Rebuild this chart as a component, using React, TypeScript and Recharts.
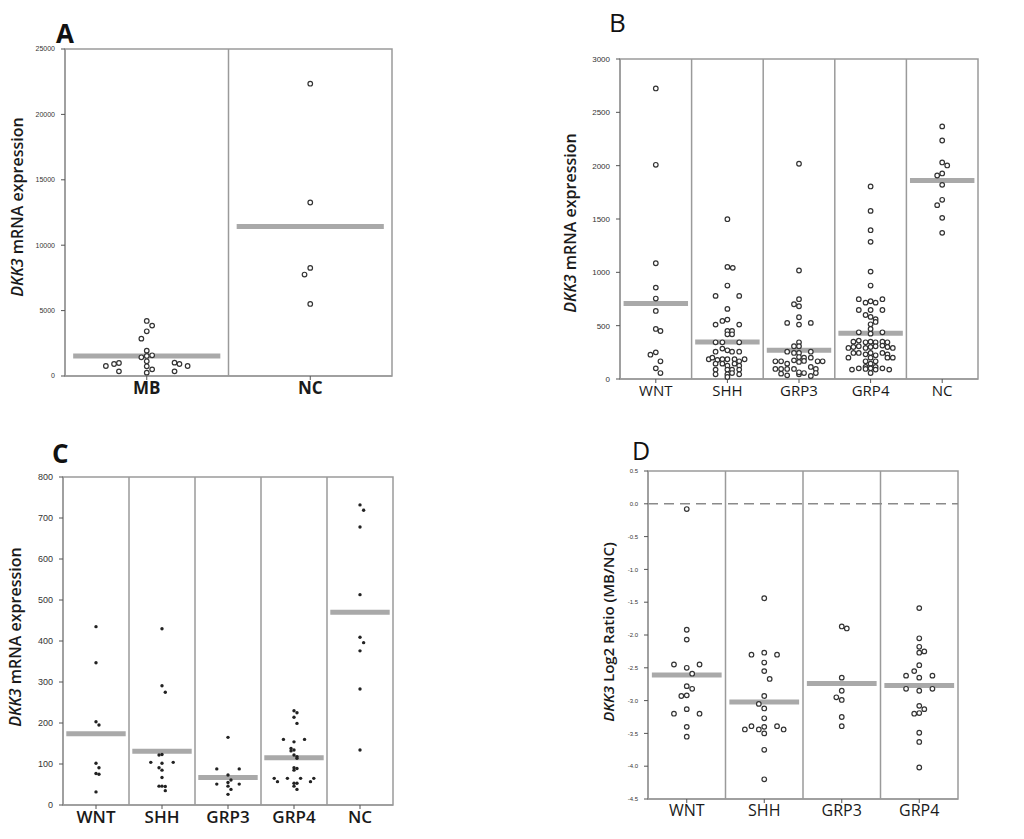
import React from 'react';
import { ReferenceArea, ReferenceLine, Scatter, ScatterChart, XAxis, YAxis } from 'recharts';

// each point: [offset from group centre (in category widths), value]
type Pt = [number, number];

const catsA = ['MB', 'NC'];
const mbA: Pt[] = [
    [-0.25, 765], [-0.2, 918], [-0.17, 995], [-0.17, 357], [0, 4209], [0.033, 3852], [0, 3418],
    [-0.033, 2857], [0, 1939], [-0.033, 1429], [0, 1531], [0.033, 1582], [0, 1122], [0, 740],
    [0, 255], [0.033, 510], [0.17, 1020], [0.2, 918], [0.17, 357], [0.25, 765]
];
const ncA: Pt[] = [[0, 22347], [0, 13265], [0, 8265], [-0.035, 7755], [0, 5510]];
const meansA = [1530, 11430];
const ticksA = [0, 5000, 10000, 15000, 20000, 25000];

const catsB = ['WNT', 'SHH', 'GRP3', 'GRP4', 'NC'];
const wntB: Pt[] = [
    [0, 2724], [0, 2008], [0, 1085], [0, 857], [0, 754], [0, 638], [0, 469], [0.065, 450],
    [0, 250], [-0.075, 228], [0.065, 166], [0, 100], [0.065, 56]
];
const shhB: Pt[] = [
    [0, 1498], [0, 1051], [0.075, 1042], [0, 876], [-0.165, 779], [0.165, 779], [0, 657],
    [-0.165, 510], [-0.07, 544], [0, 557], [0.165, 510], [0, 450], [0.065, 450], [0, 419],
    [0.065, 419], [-0.165, 344], [-0.07, 344], [0.165, 344], [-0.165, 256], [-0.07, 285],
    [0, 269], [0.065, 256], [0.165, 256], [-0.26, 185], [-0.21, 200], [-0.14, 178], [-0.07, 185],
    [0, 185], [0.1, 185], [0.165, 166], [0.24, 185], [-0.165, 144], [-0.07, 144], [0, 125],
    [0.1, 144], [0.165, 125], [-0.165, 88], [0, 88], [0.065, 88], [0.165, 88], [-0.165, 44],
    [0, 44], [0.065, 56], [0.165, 44], [0, 19]
];
const grp3B: Pt[] = [
    [0, 2018], [0, 1017], [0, 748], [-0.07, 701], [0, 682], [0, 579], [-0.165, 526], [0, 510],
    [0.165, 526], [0, 344], [-0.07, 307], [0, 307], [-0.165, 256], [-0.07, 244], [0, 244],
    [0.165, 256], [0, 206], [0.07, 200], [-0.07, 175], [0, 160], [0.07, 169], [0.165, 200],
    [-0.33, 166], [-0.25, 166], [-0.165, 144], [0.26, 166], [0.33, 166], [-0.33, 94], [-0.25, 94],
    [-0.165, 94], [-0.07, 94], [0.165, 113], [0.235, 94], [-0.25, 50], [-0.165, 34], [0, 44],
    [0.07, 56], [0.165, 28], [0.235, 56], [0, 63]
];
const grp4B: Pt[] = [
    [0, 1805], [0, 1576], [0, 1395], [0, 1286], [0, 1007], [0, 876], [-0.165, 748], [-0.07, 716],
    [0, 729], [0.07, 716], [0.165, 748], [-0.165, 647], [0, 647], [0.165, 647], [-0.07, 600],
    [0, 582], [0.07, 560], [0, 513], [0.07, 535], [0, 469], [0.165, 438], [-0.165, 438], [0, 425],
    [-0.24, 350], [-0.165, 360], [-0.07, 344], [0, 350], [0.07, 344], [0.165, 350], [0.235, 344],
    [-0.31, 291], [-0.24, 300], [-0.165, 307], [-0.07, 291], [0, 300], [0.07, 307], [0.165, 313],
    [0.235, 300], [0.31, 291], [-0.31, 200], [-0.24, 244], [-0.165, 244], [-0.07, 231], [0, 244],
    [0.07, 222], [0.165, 244], [0.235, 231], [0.31, 200], [-0.07, 166], [0, 200], [0.07, 166],
    [0.235, 200], [0, 144], [-0.07, 113], [0.07, 113], [-0.26, 88], [-0.165, 100], [-0.07, 94],
    [0, 100], [0.07, 88], [0.165, 100], [0.26, 88], [0, 56]
];
const ncB: Pt[] = [
    [0, 2368], [0, 2236], [0, 2030], [0.07, 2002], [-0.07, 1908], [0, 1927], [0, 1820],
    [0, 1680], [-0.07, 1630], [0, 1511], [0, 1370]
];
const meansB = [707, 347, 269, 428, 1861];
const ticksB = [0, 500, 1000, 1500, 2000, 2500, 3000];

const catsC = ['WNT', 'SHH', 'GRP3', 'GRP4', 'NC'];
const wntC: Pt[] = [[0, 435], [0, 347], [0, 203], [0.045, 195], [0, 102], [0.045, 91], [0, 77], [0.045, 75], [0, 32]];
const shhC: Pt[] = [
    [0, 430], [0, 291], [0.05, 275], [0, 123], [-0.045, 122], [-0.17, 104], [0, 102], [0.17, 104],
    [-0.045, 91], [0, 85], [0, 67], [0, 46], [0.05, 45], [-0.045, 46], [0.05, 35]
];
const grp3C: Pt[] = [
    [0, 165], [-0.17, 88], [0.17, 88], [0, 73], [0.045, 61], [-0.17, 51], [0, 55], [0.17, 51],
    [0, 46], [0.045, 38], [0, 26]
];
const grp4C: Pt[] = [
    [0, 230], [0.045, 225], [0, 214], [0.045, 199], [-0.16, 160], [0, 154], [0.16, 160],
    [-0.045, 138], [0, 134], [-0.045, 132], [0, 122], [0.045, 118], [0.045, 114], [0, 91],
    [0.045, 89], [0, 85], [-0.3, 65], [-0.25, 57], [-0.1, 65], [0.1, 65], [0.3, 65], [0.25, 57],
    [0, 53], [0.045, 53], [0, 46], [0.045, 38]
];
const ncC: Pt[] = [[0, 732], [0.055, 719], [0, 678], [0, 513], [0, 409], [0.055, 396], [0, 376], [0, 283], [0, 134]];
const meansC = [174, 131, 67, 115, 470];
const ticksC = [0, 100, 200, 300, 400, 500, 600, 700, 800];

const catsD = ['WNT', 'SHH', 'GRP3', 'GRP4'];
const wntD: Pt[] = [
    [0, -0.08], [0, -1.92], [0, -2.07], [-0.165, -2.45], [0.165, -2.45], [0, -2.5], [0.07, -2.59],
    [0, -2.78], [0.07, -2.82], [-0.07, -2.93], [0, -2.92], [0, -3.13], [-0.165, -3.2],
    [0.165, -3.2], [0, -3.4], [0, -3.55]
];
const shhD: Pt[] = [
    [0, -1.44], [-0.165, -2.3], [0, -2.27], [0.165, -2.3], [0, -2.42], [0, -2.55], [0.07, -2.67],
    [0, -2.93], [-0.07, -3.05], [0, -3.12], [0, -3.27], [-0.165, -3.39], [0.165, -3.39],
    [-0.25, -3.44], [-0.07, -3.44], [0, -3.4], [0.25, -3.44], [0, -3.5], [0, -3.75], [0, -4.2]
];
const grp3D: Pt[] = [[0, -1.87], [0.065, -1.9], [0, -2.65], [0, -2.85], [-0.07, -2.95], [0, -2.99], [0, -3.25], [0, -3.39]];
const grp4D: Pt[] = [
    [0, -1.59], [0, -2.05], [0, -2.18], [0.065, -2.25], [0, -2.27], [0, -2.46], [-0.065, -2.55],
    [-0.17, -2.62], [0, -2.65], [0.17, -2.62], [-0.17, -2.82], [0.17, -2.82], [0, -2.85],
    [0, -3.08], [0.065, -3.13], [-0.065, -3.2], [0, -3.19], [0, -3.49], [0, -3.63], [0, -4.02]
];
const meansD = [-2.61, -3.02, -2.74, -2.77];
const ticksD = [-4.5, -4, -3.5, -3, -2.5, -2, -1.5, -1, -0.5, 0, 0.5];

const FRAME = '#9a9a9a';
const MEAN = '#a9a9a9';
const LABEL_FONT = '"Open Sans", "DejaVu Sans", sans-serif';
const TICK_FONT = '"Liberation Sans", Arial, sans-serif';

const Ring = (props: any) =>
    <circle cx={props.cx} cy={props.cy} r={2.3} fill="#fff" stroke="#333" strokeWidth={1.2}/>;

const Dot = (props: any) =>
    <circle cx={props.cx} cy={props.cy} r={1.7} fill="#222"/>;

type PanelProps = {
    left: number
    top: number
    width: number
    height: number
    margin: { top: number, right: number, bottom: number, left: number }
    yWidth: number
    cats: string[]
    groups: Pt[][]
    means: number[]
    ticks: number[]
    tickSize: number
    tickFmt?: (v: number) => string
    xFont: number
    xWeight: number
    filled?: boolean
    zeroLine?: boolean
};

function Panel(p: PanelProps): JSX.Element {
    const n = p.cats.length;
    const yMin = p.ticks[0];
    const yMax = p.ticks[p.ticks.length - 1];
    const points = p.groups.flatMap((g, i) => g.map(([dx, v]) => ({ x: i + dx, y: v })));

    return (
        <div style={{ position: 'absolute', left: p.left, top: p.top }}>
            <ScatterChart width={p.width} height={p.height} margin={p.margin}>
                <XAxis
                    type="number"
                    dataKey="x"
                    domain={[-0.5, n - 0.5]}
                    ticks={p.cats.map((_c, i) => i)}
                    interval={0}
                    tickFormatter={(i: number) => p.cats[i] ?? ''}
                    tickSize={4}
                    tickLine={{ stroke: '#555' }}
                    axisLine={{ stroke: FRAME, strokeWidth: 1.5 }}
                    tick={{ fill: '#1a1a1a', fontSize: p.xFont, fontWeight: p.xWeight, fontFamily: LABEL_FONT }}
                    height={30}
                />
                <YAxis
                    type="number"
                    dataKey="y"
                    domain={[yMin, yMax]}
                    ticks={p.ticks}
                    interval={0}
                    width={p.yWidth}
                    tickFormatter={p.tickFmt}
                    tickSize={4}
                    tickMargin={6}
                    tickLine={{ stroke: '#555' }}
                    axisLine={{ stroke: FRAME, strokeWidth: 1.5 }}
                    tick={{ fill: '#333', fontSize: p.tickSize, fontFamily: TICK_FONT }}
                />
                <ReferenceArea x1={-0.5} x2={n - 0.5} y1={yMin} y2={yMax} fill="none" stroke={FRAME} strokeWidth={1.5}/>
                {p.cats.slice(1).map((_c, i) =>
                    <ReferenceLine key={`div-${i}`} x={i + 0.5} stroke={FRAME} strokeWidth={1.5}/>)}
                {p.zeroLine && <ReferenceLine y={0} stroke="#8a8a8a" strokeWidth={1.5} strokeDasharray="10 6"/>}
                {p.means.map((m, i) =>
                    <ReferenceLine
                        key={`mean-${i}`}
                        segment={[{ x: i - 0.45, y: m }, { x: i + 0.45, y: m }]}
                        stroke={MEAN}
                        strokeWidth={5}/>)}
                <Scatter data={points} shape={p.filled ? Dot : Ring} isAnimationActive={false}/>
            </ScatterChart>
        </div>
    );
}

const rotated = (x: number, y: number, size: number, rest: string) => (
    <div style={{
        position: 'absolute', left: x, top: y, transform: 'translate(-50%, -50%) rotate(-90deg)',
        whiteSpace: 'nowrap', fontFamily: LABEL_FONT, fontSize: size, color: '#1a1a1a', fontWeight: 600
    }}>
        <i>DKK3</i>{rest}
    </div>
);

const heading = (x: number, y: number, text: string, weight: number, size = 26) => (
    <div style={{
        position: 'absolute', left: x, top: y, fontFamily: LABEL_FONT, fontSize: size,
        fontWeight: weight, color: '#111', lineHeight: '20px'
    }}>{text}</div>
);

export default function App(): JSX.Element {
    return (
        <div style={{ position: 'absolute', left: 0, top: 0, width: 1024, height: 839, background: '#fff', overflow: 'hidden' }}>
            <Panel
                left={0} top={0} width={420} height={410}
                margin={{ top: 49, right: 28, bottom: 4, left: 25 }} yWidth={40}
                cats={catsA} groups={[mbA, ncA]} means={meansA} ticks={ticksA}
                tickSize={7} xFont={17} xWeight={700}/>
            <Panel
                left={470} top={0} width={554} height={410}
                margin={{ top: 59, right: 46, bottom: 1, left: 110 }} yWidth={40}
                cats={catsB} groups={[wntB, shhB, grp3B, grp4B, ncB]} means={meansB} ticks={ticksB}
                tickSize={8} xFont={15} xWeight={400}/>
            <Panel
                left={0} top={410} width={470} height={429}
                margin={{ top: 67, right: 77, bottom: 4, left: 28 }} yWidth={35}
                cats={catsC} groups={[wntC, shhC, grp3C, grp4C, ncC]} means={meansC} ticks={ticksC}
                tickSize={9} xFont={17} xWeight={600} filled/>
            <Panel
                left={470} top={410} width={554} height={429}
                margin={{ top: 61, right: 66, bottom: 10, left: 143 }} yWidth={35}
                cats={catsD} groups={[wntD, shhD, grp3D, grp4D]} means={meansD} ticks={ticksD}
                tickSize={6} tickFmt={(v: number) => v.toFixed(1)} xFont={16} xWeight={400} zeroLine/>
            {heading(56, 23, 'A', 700)}
            {heading(609, 12, 'B', 400)}
            {heading(52, 443, 'C', 700)}
            {heading(632, 440, 'D', 400, 25)}
            {rotated(17, 207, 16, ' mRNA expression')}
            {rotated(570, 223, 16, ' mRNA expression')}
            {rotated(15, 637, 16, ' mRNA expression')}
            {rotated(608, 632, 15, ' Log2 Ratio (MB/NC)')}
        </div>
    );
}
